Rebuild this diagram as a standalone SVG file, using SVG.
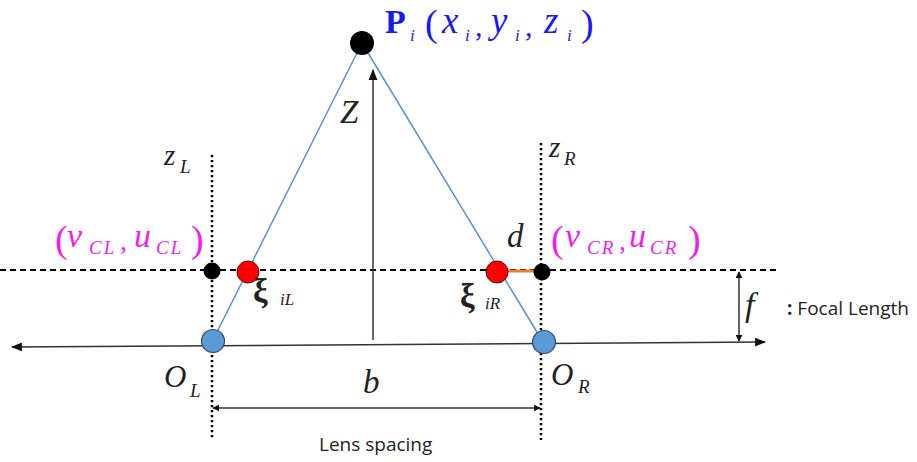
<svg xmlns="http://www.w3.org/2000/svg" width="917" height="462" viewBox="0 0 917 462">
<style>
.m{font-family:"Liberation Serif","Times New Roman",serif;font-style:italic;fill:#222}
.p{font-family:"Liberation Serif","Times New Roman",serif;font-style:normal;fill:#222}
.s{font-family:"Open Sans","Liberation Sans",sans-serif;fill:#222}
.bl{fill:#1a1aee}
.mg{fill:#f01ff0}
.ray{stroke:#5b8fd6;stroke-width:1.5;fill:none}
.ax{stroke:#333;stroke-width:1.5;fill:none}
.dash{stroke:#000;stroke-width:2;stroke-dasharray:6 4;fill:none}
.dot{stroke:#000;stroke-width:2.5;stroke-dasharray:2.2 2.8;fill:none}
</style>
<defs>
<marker id="ah" viewBox="0 0 10 10" refX="9" refY="5" markerWidth="7" markerHeight="7" orient="auto-start-reverse" markerUnits="userSpaceOnUse">
<path d="M0,0 L10,5 L0,10 z" fill="#111"/>
</marker>
<marker id="ah2" viewBox="0 0 10 10" refX="9" refY="5" markerWidth="11" markerHeight="11" orient="auto-start-reverse" markerUnits="userSpaceOnUse">
<path d="M0,1 L10,5 L0,9 z" fill="#111"/>
</marker>
</defs>
<g id="connectors">
<line class="dash" x1="0" y1="270" x2="780" y2="270"/>
<line class="dot" x1="212" y1="155" x2="212" y2="440"/>
<line class="dot" x1="541" y1="143" x2="541" y2="440"/>
<line class="ax" x1="12" y1="347" x2="765" y2="342" marker-start="url(#ah2)" marker-end="url(#ah2)"/>
<line class="ray" x1="362" y1="43" x2="213" y2="340"/>
<line class="ray" x1="362" y1="43" x2="543" y2="342"/>
<line class="ax" x1="373" y1="340" x2="373" y2="70" marker-end="url(#ah2)"/>
<line class="ax" x1="213" y1="408" x2="540" y2="408" marker-start="url(#ah)" marker-end="url(#ah)"/>
<line class="ax" x1="739" y1="272" x2="739" y2="341" marker-start="url(#ah)" marker-end="url(#ah)"/>
<line x1="506" y1="271" x2="535" y2="271" stroke="#ed7d31" stroke-width="3"/>
</g>
<g id="P"><circle cx="362" cy="43" r="12" fill="#000"/></g>
<g id="CL"><circle cx="212" cy="271" r="8.5" fill="#000"/></g>
<g id="CR"><circle cx="542" cy="272" r="8.5" fill="#000"/></g>
<g id="xiL"><circle cx="248" cy="272" r="11" fill="#ff0000" stroke="#6a0000" stroke-width="1"/></g>
<g id="xiR"><circle cx="497" cy="272" r="11" fill="#ff0000" stroke="#6a0000" stroke-width="1"/></g>
<g id="OL"><circle cx="213" cy="341" r="11.5" fill="#5b9bd5" stroke="#2e4a66" stroke-width="1.2"/></g>
<g id="OR"><circle cx="544" cy="342" r="11.5" fill="#5b9bd5" stroke="#2e4a66" stroke-width="1.2"/></g>
<g id="labels">
<text x="385" y="33" font-family="Liberation Serif,serif" font-weight="bold" font-size="34" class="bl">P</text>
<text x="410" y="41" class="m bl" font-size="17">i</text>
<text x="425" y="36" class="p bl" font-size="38">(</text>
<text x="442" y="33" class="m bl" font-size="37">x</text>
<text x="465" y="41" class="m bl" font-size="17">i</text>
<text x="475" y="36" class="p bl" font-size="30">,</text>
<text x="491" y="33" class="m bl" font-size="37">y</text>
<text x="515" y="41" class="m bl" font-size="17">i</text>
<text x="525" y="36" class="p bl" font-size="30">,</text>
<text x="544" y="33" class="m bl" font-size="37">z</text>
<text x="567" y="41" class="m bl" font-size="17">i</text>
<text x="581" y="36" class="p bl" font-size="38">)</text>

<text x="340" y="123" class="m" font-size="33">Z</text>
<text x="164" y="165" class="m" font-size="29">z</text>
<text x="180" y="173" class="m" font-size="19">L</text>
<text x="549" y="157" class="m" font-size="29">z</text>
<text x="564" y="165" class="m" font-size="19">R</text>

<text x="55" y="252" class="p mg" font-size="38">(</text>
<text x="67" y="247" class="m mg" font-size="34">v</text>
<text x="89" y="254" class="m mg" font-size="19" letter-spacing="2">CL</text>
<text x="120" y="250" class="p mg" font-size="28">,</text>
<text x="134" y="247" class="m mg" font-size="34">u</text>
<text x="156" y="254" class="m mg" font-size="19" letter-spacing="2">CL</text>
<text x="191" y="252" class="p mg" font-size="38">)</text>

<text x="551" y="252" class="p mg" font-size="38">(</text>
<text x="565" y="247" class="m mg" font-size="34">v</text>
<text x="587" y="254" class="m mg" font-size="19" letter-spacing="2">CR</text>
<text x="619" y="250" class="p mg" font-size="28">,</text>
<text x="629" y="247" class="m mg" font-size="34">u</text>
<text x="650" y="254" class="m mg" font-size="19" letter-spacing="2">CR</text>
<text x="688" y="252" class="p mg" font-size="38">)</text>

<text x="507" y="247" class="m" font-size="33">d</text>
<text x="253" y="302" font-family="Liberation Serif,serif" font-weight="bold" font-size="33" fill="#222">ξ</text>
<text x="280" y="305" class="m" font-size="17">iL</text>
<text x="460" y="307" font-family="Liberation Serif,serif" font-weight="bold" font-size="33" fill="#222">ξ</text>
<text x="485" y="309" class="m" font-size="17">iR</text>

<text x="164" y="387" class="m" font-size="31">O</text>
<text x="190" y="397" class="m" font-size="19">L</text>
<text x="551" y="385" class="m" font-size="31">O</text>
<text x="578" y="393" class="m" font-size="19">R</text>
<text x="363" y="393" class="m" font-size="33">b</text>
<text x="745" y="316" class="m" font-size="34">f</text>
<text x="787" y="315" class="s" font-size="19"><tspan font-weight="bold">:</tspan> Focal Length</text>
<text x="319" y="451" class="s" font-size="19">Lens spacing</text>
</g>
</svg>
